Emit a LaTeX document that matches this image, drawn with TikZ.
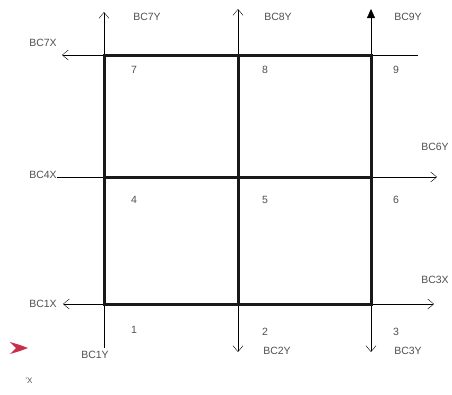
\documentclass[tikz,border=0pt]{standalone}
\usepackage{fontspec}
\setmainfont{Liberation Sans}
\usetikzlibrary{arrows.meta}
\definecolor{lab}{HTML}{505050}
\definecolor{thin}{HTML}{6A6A6A}
\definecolor{redtip}{HTML}{C8304A}
\begin{document}
\begin{tikzpicture}[x=1pt,y=-1pt,
  lbl/.style={text=lab,font=\fontsize{10.5}{12}\selectfont,inner sep=0pt},
  num/.style={text=lab,font=\fontsize{10.5}{12}\selectfont,inner sep=0pt},
  grid/.style={line width=3pt,black!90,line cap=rect},
  axis/.style={line width=1pt,thin},
  arr/.style={axis,-{Straight Barb[length=6pt,width=10pt]}}]
\useasboundingbox (0,0) rectangle (452,394);
\fill[white] (0,0) rectangle (452,394);
% grid points
\coordinate (a1) at (104,304); \coordinate (a2) at (238,304); \coordinate (a3) at (371,304);
\coordinate (a4) at (104,177); \coordinate (a5) at (238,177); \coordinate (a6) at (371,177);
\coordinate (a7) at (104,55);  \coordinate (a8) at (238,55);  \coordinate (a9) at (371,55);
% free ends
\coordinate (e7y) at (104,12); \coordinate (e8y) at (238,9); \coordinate (e9y) at (371,9);
\coordinate (e7x) at (62,55); \coordinate (e9x) at (418,55);
\coordinate (e4x) at (57,177); \coordinate (e6x) at (437,177);
\coordinate (e1x) at (63,304); \coordinate (e3x) at (434,304);
\coordinate (e1y) at (104,348); \coordinate (e2y) at (238,352); \coordinate (e3y) at (371,352);
% thin axes
\draw[arr] (a7) -- (e7y);
\draw[arr] (a8) -- (e8y);
\draw[axis,-{Triangle[length=9pt,width=8pt]}] (a9) -- (e9y);
\draw[arr] (a7) -- (e7x);
\draw[axis] (a9) -- (e9x);
\draw[axis] (a4) -- (e4x);
\draw[arr] (a6) -- (e6x);
\draw[arr] (a1) -- (e1x);
\draw[arr] (a3) -- (e3x);
\draw[axis] (a1) -- (e1y);
\draw[arr] (a2) -- (e2y);
\draw[arr] (a3) -- (e3y);
% thick grid
\draw[grid] (a7) rectangle (a3);
\draw[grid] (a4) -- (a6);
\draw[grid] (a8) -- (a2);
% labels
\node[lbl] (l7y) at (147,17) {BC7Y};
\node[lbl] (l8y) at (278,17) {BC8Y};
\node[lbl] (l9y) at (408,17) {BC9Y};
\node[lbl] (l7x) at (43,43) {BC7X};
\node[lbl] (l6y) at (435,147) {BC6Y};
\node[lbl] (l4x) at (43,175) {BC4X};
\node[lbl] (l1x) at (43,304) {BC1X};
\node[lbl] (l3x) at (435,280) {BC3X};
\node[lbl] (l1y) at (95,355) {BC1Y};
\node[lbl] (l2y) at (277,351) {BC2Y};
\node[lbl] (l3y) at (408,351) {BC3Y};
% cell numbers
\node[num] (n7) at (134,70) {7};
\node[num] (n8) at (265,70) {8};
\node[num] (n9) at (396,70) {9};
\node[num] (n4) at (134,200) {4};
\node[num] (n5) at (265,200) {5};
\node[num] (n6) at (396,200) {6};
\node[num] (n1) at (134,330) {1};
\node[num] (n2) at (265,332) {2};
\node[num] (n3) at (396,332) {3};
% red tip and stray mark
\fill[redtip] (10,342) -- (20,345) -- (28,348) -- (20,351) -- (10,354) -- (16,348) -- cycle;
\node[lbl,font=\fontsize{8}{10}\selectfont] (sx) at (29,381) {'X};
\end{tikzpicture}
\end{document}
